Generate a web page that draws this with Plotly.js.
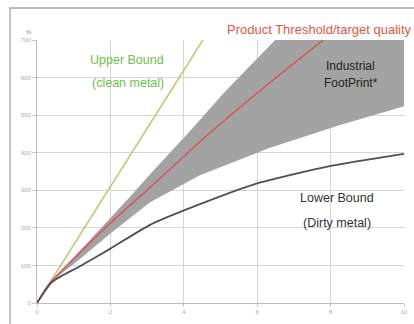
<!DOCTYPE html>
<html>
<head>
<meta charset="utf-8">
<script src="https://cdn.plot.ly/plotly-3.0.1.min.js"></script>
<style>
html,body{margin:0;padding:0;background:#fff;overflow:hidden;}
#wrap{position:relative;width:414px;height:324px;overflow:hidden;}
#chart{position:absolute;left:0;top:0;width:414px;height:324px;}
#fl{position:absolute;left:9px;top:7px;width:2px;height:320px;background:#c4c4c4;}
#ft{position:absolute;left:9px;top:7px;width:405px;height:1.5px;background:#b8b8b8;}
</style>
</head>
<body>
<div id="wrap">
<div id="chart"></div>
<div id="fl"></div>
<div id="ft"></div>
</div>
<script>
// Data (x axis 0..10, y axis 0..700)
var upperBoundX = [0, 2.45, 4.52];
var upperBoundY = [0, 381, 700];

var thresholdX = [0, 0.35, 2, 3.1, 4.4, 6.1, 7.8];
var thresholdY = [0, 53, 213, 309, 426, 567, 700];

var footprintTopX = [0, 0.35, 1.64, 2.53, 3.08, 4.17, 5.12, 6.49];
var footprintTopY = [0, 53, 189, 282, 343, 458, 562, 700];

var footprintLowX = [0, 0.35, 1.17, 1.99, 3.08, 4.44, 6.35, 8.26, 10];
var footprintLowY = [0, 53, 117, 184, 268, 340, 413, 474, 524];

var lowerBoundX = [0, 0.41, 1.17, 1.99, 3.08, 4.44, 6.02, 8.01, 10];
var lowerBoundY = [0, 56, 98, 144, 208, 263, 319, 365, 397];

var xTicks = [0, 2, 4, 6, 8, 10];
var yTicks = [0, 100, 200, 300, 400, 500, 600, 700];

var xMax = 10, yMax = 700;

// footprint polygon: lower edge, top-right corner, upper edge reversed
var bandX = footprintLowX.concat([xMax]).concat(footprintTopX.slice().reverse());
var bandY = footprintLowY.concat([yMax]).concat(footprintTopY.slice().reverse());

var traces = [
  {x: bandX, y: bandY, type: 'scatter', mode: 'lines', fill: 'toself',
   fillcolor: '#a3a3a3', line: {width: 0, color: '#a3a3a3'}, hoverinfo: 'skip'},
  {x: upperBoundX, y: upperBoundY, type: 'scatter', mode: 'lines',
   line: {color: '#b9cc6e', width: 1.5}},
  {x: thresholdX, y: thresholdY, type: 'scatter', mode: 'lines',
   line: {color: '#d9545c', width: 1.5, shape: 'spline', smoothing: 0.5}},
  {x: lowerBoundX, y: lowerBoundY, type: 'scatter', mode: 'lines',
   line: {color: '#505050', width: 1.8, shape: 'spline', smoothing: 0.6}}
];

var annFont = 'Liberation Sans, Arial, sans-serif';
function ann(px, py, text, size, color) {
  return {xref: 'paper', yref: 'paper', x: (px - 37) / 367, y: (303 - py) / 263,
    xanchor: 'center', yanchor: 'middle', text: text, showarrow: false,
    font: {size: size, color: color, family: annFont}};
}
var layout = {
  width: 414, height: 324,
  margin: {l: 37, r: 10, t: 40, b: 21},
  paper_bgcolor: 'rgba(0,0,0,0)', plot_bgcolor: '#ffffff',
  showlegend: false,
  font: {family: annFont},
  xaxis: {range: [0, xMax], tickvals: xTicks, ticktext: xTicks.map(String),
    showgrid: true, gridcolor: '#d6d6d6', gridwidth: 1,
    showline: true, linecolor: '#bcbcbc', linewidth: 1,
    zeroline: false, ticks: 'outside', ticklen: 3, tickcolor: '#c8c8c8',
    tickfont: {size: 6, color: '#aaaaaa'}, fixedrange: true},
  yaxis: {range: [0, yMax], tickvals: yTicks, ticktext: yTicks.map(String),
    showgrid: true, gridcolor: '#d6d6d6', gridwidth: 1,
    showline: true, linecolor: '#bcbcbc', linewidth: 1,
    zeroline: false, ticks: 'outside', ticklen: 4, tickcolor: '#c8c8c8',
    tickfont: {size: 6, color: '#aaaaaa'}, fixedrange: true},
  annotations: [
    {xref: 'paper', yref: 'paper', x: -0.022, y: 1.03, xanchor: 'center', yanchor: 'middle',
     text: '%', showarrow: false, font: {size: 6, color: '#888888'}},
    ann(127, 60, 'Upper Bound', 12.5, '#6cc24a'),
    ann(128, 83, '(clean metal)', 12.5, '#6cc24a'),
    ann(319, 30, 'Product Threshold/target quality', 13, '#e8563e'),
    ann(350, 66, 'Industrial', 12, '#222222'),
    ann(351, 83, 'FootPrint*', 12, '#222222'),
    ann(337, 198, 'Lower Bound', 12.5, '#333333'),
    ann(337, 223, '(Dirty metal)', 12.5, '#333333')
  ]
};

Plotly.newPlot('chart', traces, layout, {displayModeBar: false, staticPlot: true});
</script>
</body>
</html>
